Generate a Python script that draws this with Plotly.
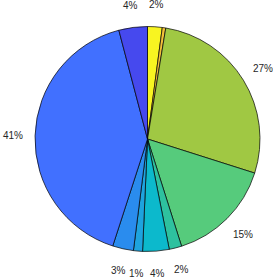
import math
import plotly.graph_objects as go

# Slice values (percent), clockwise from 12 o'clock
values = [2.1, 0.5, 27.3, 15.2, 1.8, 3.8, 1.3, 3.0, 40.9, 4.1]
labels_txt = ["2%", "", "27%", "15%", "2%", "4%", "1%", "3%", "41%", "4%"]
names = ["s10", "s9", "s8", "s7", "s6", "s5", "s4", "s3", "s2", "s1"]
colors = ["#F8F421", "#F2BF3A", "#A0C843", "#56CB7C", "#2EC19F",
          "#0CB9CC", "#1EA3DE", "#2A8CEE", "#4170FF", "#4649EE"]

W_PX, H_PX = 273, 280
ML, MR, MT, MB = 35, 13, 26, 28
plot_w = W_PX - ML - MR
plot_h = H_PX - MT - MB

fig = go.Figure(go.Pie(
    labels=names,
    values=values,
    textinfo="none",
    sort=False,
    direction="clockwise",
    rotation=0,
    marker=dict(colors=colors, line=dict(color="#000000", width=0.7)),
    showlegend=False,
    hoverinfo="none",
))

# Percent labels placed like MATLAB: centred at 1.2 x radius on each slice's mid-angle
total = sum(values)
radius = min(plot_w, plot_h) / 2.0
cx = plot_w / 2.0
cy = plot_h / 2.0
cum = 0.0
annotations = []
for v, t in zip(values, labels_txt):
    mid = (cum + v / 2.0) / total * 2 * math.pi
    cum += v
    if not t:
        continue
    px = cx + 1.2 * radius * math.sin(mid)
    py = cy - 1.2 * radius * math.cos(mid)
    annotations.append(dict(
        x=px / plot_w, y=1 - py / plot_h, xref="paper", yref="paper",
        text=t, showarrow=False, xanchor="center", yanchor="middle",
        font=dict(family="Liberation Sans, Arial, sans-serif", size=10, color="#262626"),
    ))

fig.update_layout(
    width=W_PX, height=H_PX,
    margin=dict(l=ML, r=MR, t=MT, b=MB),
    paper_bgcolor="white",
    plot_bgcolor="white",
    showlegend=False,
    annotations=annotations,
)

fig.write_html(
    "out.html",
    config={"displayModeBar": False},
    post_script="document.body.style.margin='0';document.body.style.overflow='hidden';",
)
